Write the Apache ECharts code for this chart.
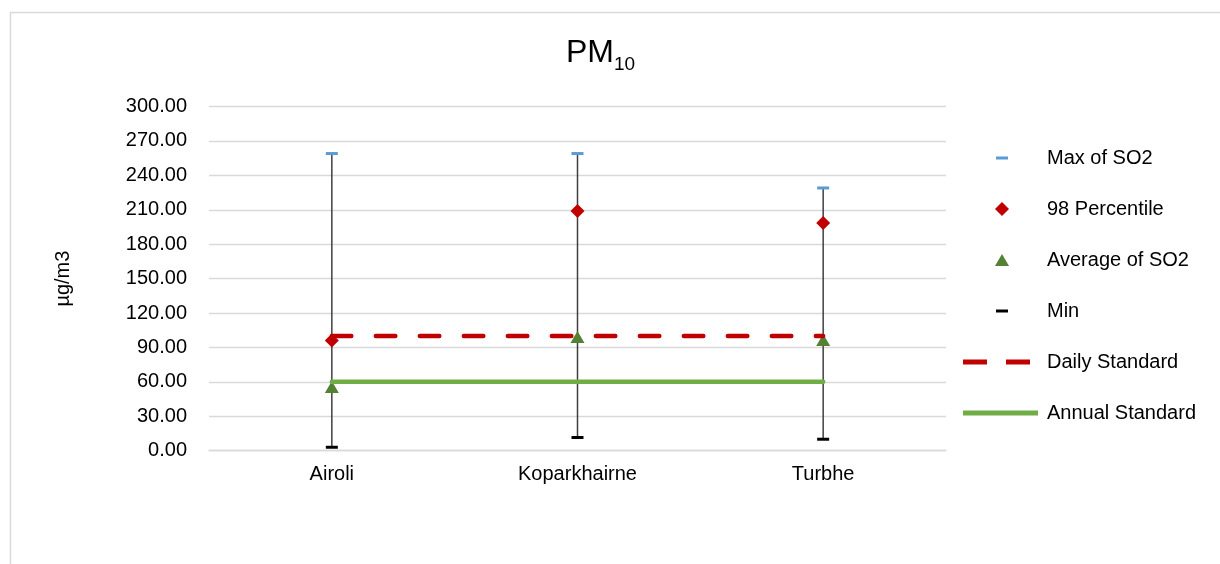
<!DOCTYPE html>
<html>
<head>
<meta charset="utf-8">
<script src="https://cdn.jsdelivr.net/npm/echarts@6/dist/echarts.min.js"></script>
<style>html,body{margin:0;padding:0;background:#fff}#c{width:1220px;height:564px}</style>
</head>
<body>
<div id="c"></div>
<script>
const categories = ['Airoli', 'Koparkhairne', 'Turbhe'];
const maxVals = [259, 259, 229];
const p98Vals = [96, 209, 198.5];
const avgVals = [55.5, 99, 96.5];
const minVals = [3, 11.5, 10];
const dailyStd = [100, 100, 100];
const annualStd = [60, 60, 60];
const yMin = 0, yMax = 300, yStep = 30;

const FONT = '"Liberation Sans", Arial, sans-serif';
const chart = echarts.init(document.getElementById('c'));

const rangeData = categories.map((c, i) => [i, minVals[i], maxVals[i]]);

chart.setOption({
  animation: false,
  textStyle: { fontFamily: FONT },
  graphic: [{
    type: 'rect', left: 8, top: 10, silent: true,
    shape: { width: 1400, height: 800 },
    style: { fill: 'none', stroke: '#d9d9d9', lineWidth: 1.5 }
  }],
  title: {
    text: '{a|PM}{b|10}',
    left: 566, top: 32, padding: 0,
    textStyle: {
      fontWeight: 'normal',
      rich: {
        a: { fontSize: 32, lineHeight: 42, color: '#000', fontFamily: FONT, fontWeight: 'normal' },
        b: { fontSize: 19, lineHeight: 19, verticalAlign: 'bottom', color: '#000', fontFamily: FONT, fontWeight: 'normal' }
      }
    }
  },
  grid: { left: 209, right: 274, top: 106.5, bottom: 113.3, containLabel: false },
  xAxis: {
    type: 'category', data: categories, boundaryGap: true,
    axisLine: { show: true, lineStyle: { color: '#d9d9d9', width: 1.3 } },
    axisTick: { show: false },
    axisLabel: { color: '#000', fontSize: 20, margin: 14, fontFamily: FONT },
    splitLine: { show: false }
  },
  yAxis: {
    type: 'value', min: yMin, max: yMax, interval: yStep,
    name: 'µg/m3', nameLocation: 'middle', nameGap: 136, nameRotate: 90,
    nameTextStyle: { color: '#000', fontSize: 20, fontFamily: FONT },
    axisLine: { show: false }, axisTick: { show: false },
    axisLabel: { color: '#000', fontSize: 20, margin: 22, fontFamily: FONT, formatter: v => v.toFixed(2) },
    splitLine: { lineStyle: { color: '#d9d9d9', width: 1.3 } }
  },
  legend: {
    orient: 'vertical', left: 962, top: 148, padding: 0,
    itemWidth: 80, itemHeight: 20, itemGap: 31,
    itemStyle: { borderWidth: 0, opacity: 1 },
    textStyle: { color: '#000', fontSize: 20, fontFamily: FONT },
    selectedMode: false,
    data: [
      { name: 'Max of SO2', icon: 'path://M0,0M80,20M34,8.5L46,8.5L46,11.5L34,11.5Z' },
      { name: '98 Percentile', icon: 'path://M0,0M80,20M33,10L40,3L47,10L40,17Z' },
      { name: 'Average of SO2', icon: 'path://M0,0M80,20M33,16L40,4L47,16Z' },
      { name: 'Min', icon: 'path://M0,0M80,20M34,8.5L46,8.5L46,11.5L34,11.5Z' },
      { name: 'Daily Standard', icon: 'path://M0,0M80,20M1,7.5L25,7.5L25,12.5L1,12.5ZM44,7.5L68,7.5L68,12.5L44,12.5Z' },
      { name: 'Annual Standard', icon: 'path://M0,0M80,20M1,7.5L76,7.5L76,12.5L1,12.5Z' }
    ]
  },
  series: [
    {
      name: 'HighLow', type: 'custom', data: rangeData, z: 1,
      renderItem: (params, api) => {
        const lo = api.coord([api.value(0), api.value(1)]);
        const hi = api.coord([api.value(0), api.value(2)]);
        return { type: 'line', shape: { x1: lo[0], y1: lo[1], x2: hi[0], y2: hi[1] },
                 style: { stroke: '#404040', lineWidth: 1.5 } };
      }
    },
    { name: 'Max of SO2', type: 'scatter', data: maxVals, symbol: 'rect', symbolSize: [12, 3],
      itemStyle: { color: '#5B9BD5', opacity: 1 }, z: 3 },
    { name: '98 Percentile', type: 'scatter', data: p98Vals, symbol: 'diamond', symbolSize: [14, 14],
      itemStyle: { color: '#C00000', opacity: 1 }, z: 3 },
    { name: 'Average of SO2', type: 'scatter', data: avgVals, symbol: 'triangle', symbolSize: [14, 12],
      itemStyle: { color: '#548235', opacity: 1 }, z: 3 },
    { name: 'Min', type: 'scatter', data: minVals, symbol: 'rect', symbolSize: [12, 3],
      itemStyle: { color: '#000000', opacity: 1 }, z: 3 },
    { name: 'Daily Standard', type: 'line', data: dailyStd, symbol: 'none', z: 4,
      itemStyle: { color: '#C00000' },
      lineStyle: { color: '#C00000', width: 4.5, type: [19.5, 24.5], cap: 'round' } },
    { name: 'Annual Standard', type: 'line', data: annualStd, symbol: 'none', z: 4,
      itemStyle: { color: '#70AD47' },
      lineStyle: { color: '#70AD47', width: 4.5, cap: 'round' } }
  ]
});
</script>
</body>
</html>
